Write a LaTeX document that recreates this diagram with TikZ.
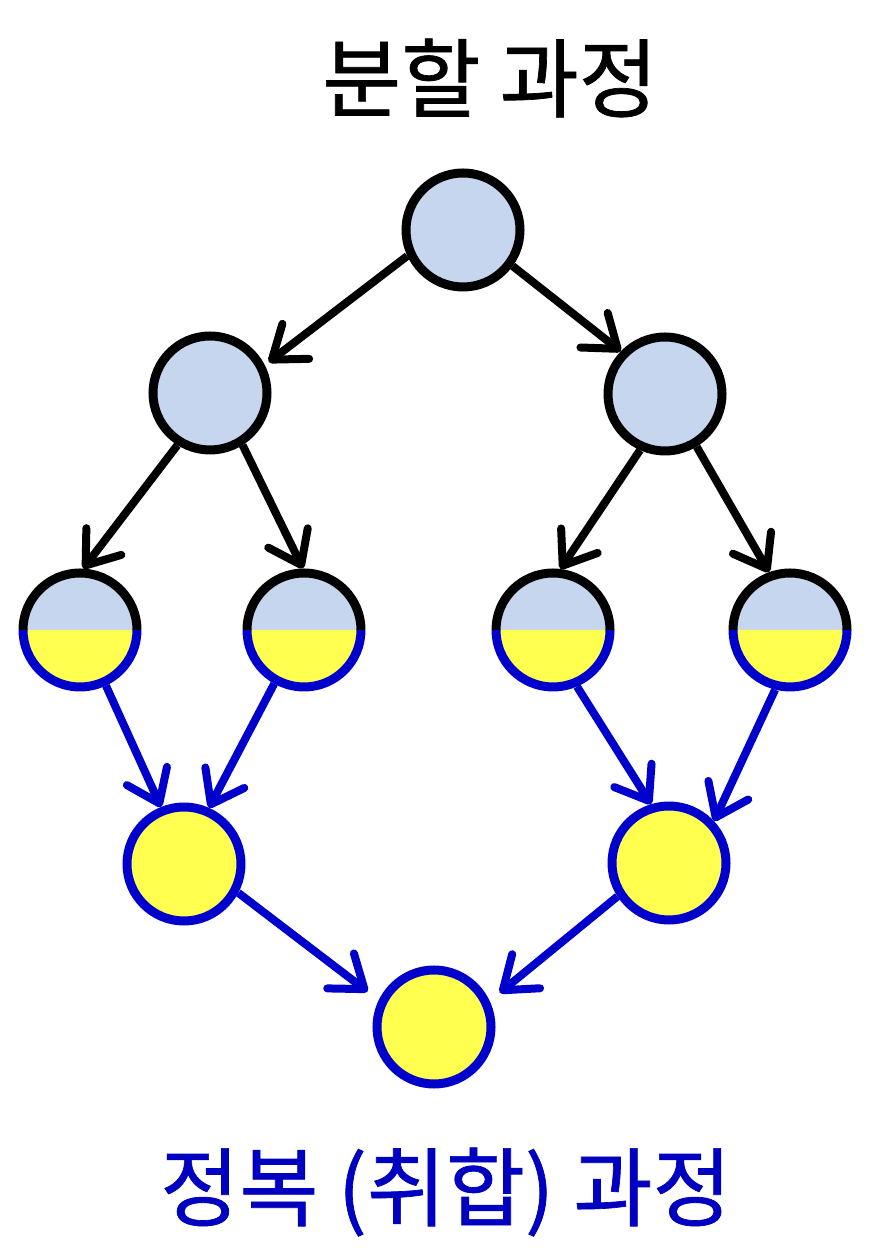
\documentclass[tikz,border=0pt]{standalone}
\usepackage{fontspec}
\newfontfamily\kr[FakeBold=0.8]{Noto Sans CJK KR}
\usetikzlibrary{arrows.meta}
\definecolor{lb}{HTML}{C6D6EE}
\definecolor{yel}{HTML}{FFFF50}
\definecolor{bl}{HTML}{0000CC}
\definecolor{txtbl}{HTML}{0000C0}
\begin{document}
\begin{tikzpicture}[x=1pt,y=1pt,
  cnode/.style={circle, minimum size=114pt, inner sep=0pt, line width=9pt},
  upnode/.style={cnode, draw=black, fill=lb},
  lownode/.style={cnode, draw=bl, fill=yel},
  halfnode/.style={cnode},
  darr/.style={line width=8pt, black, -{Straight Barb[length=30pt,width=44pt,round]}},
  carr/.style={darr, draw=bl},
  ttl/.style={font=\kr\fontsize{86}{100}\selectfont, inner sep=0pt}
]
\useasboundingbox (0,0) rectangle (870,1252);

% titles
\node[ttl, text=black] (title) at (490,1174) {분할 과정};
\node[ttl, text=txtbl] (subtitle) at (446,60) {정복 (취합) 과정};

% nodes
\node[upnode] (top) at (463,1022) {};
\node[upnode] (l2l) at (210,859) {};
\node[upnode] (l2r) at (665,858) {};
\node[halfnode] (a) at (80,622) {};
\node[halfnode] (b) at (304,622) {};
\node[halfnode] (c) at (553,622) {};
\node[halfnode] (d) at (790,622) {};
\node[lownode] (l4l) at (184,388) {};
\node[lownode] (l4r) at (669,389) {};
\node[lownode] (bot) at (434,225) {};

% half-filled nodes
\foreach \n in {a,b,c,d}{
  \fill[lb] (\n.center) ++(180:57) arc[start angle=180,end angle=0,radius=57] -- cycle;
  \fill[yel] (\n.center) ++(180:57) arc[start angle=180,end angle=360,radius=57] -- cycle;
  \draw[black, line width=9pt] (\n.center) ++(180:57) arc[start angle=180,end angle=0,radius=57];
  \draw[bl, line width=9pt] (\n.center) ++(180:57) arc[start angle=180,end angle=360,radius=57];
}

% division arrows
\draw[darr, shorten >=5pt] (top.-155) -- (l2l.27);
\draw[darr] (top.-36) -- (l2r.136);
\draw[darr] (l2l.-122) -- (a.87);
\draw[darr] (l2l.-58) -- (b.91);
\draw[darr] (l2r.-114) -- (c.83);
\draw[darr] (l2r.-59) -- (d.110);

% merge arrows
\draw[carr] (a.-65) -- (l4l.112);
\draw[carr] (b.-119) -- (l4l.66);
\draw[carr] (c.-67) -- (l4r.107);
\draw[carr] (d.-104) -- (l4r.43);
\draw[carr, shorten >=14pt] (l4l.-28) -- (bot.154);
\draw[carr, shorten >=13pt] (l4r.-147) -- (bot.25);
\end{tikzpicture}
\end{document}
